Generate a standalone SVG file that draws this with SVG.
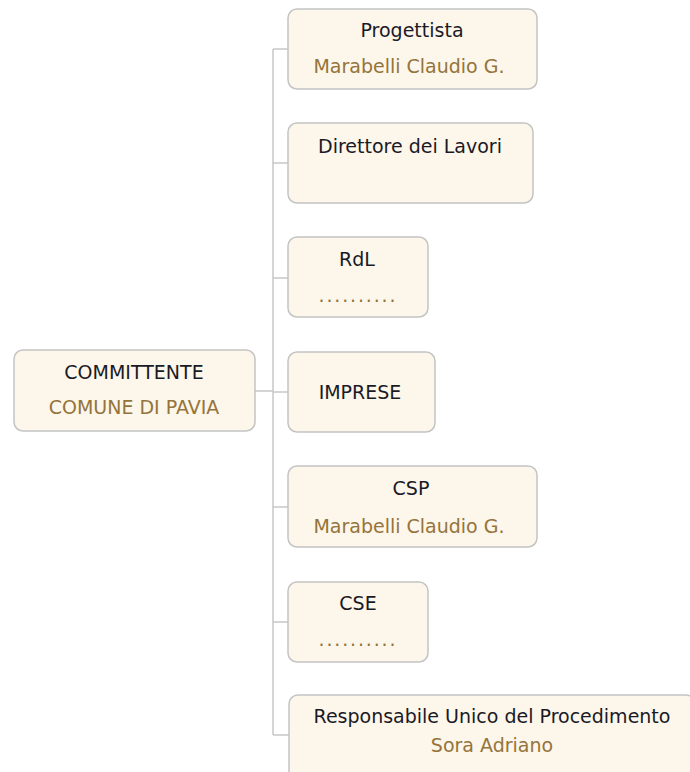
<svg xmlns="http://www.w3.org/2000/svg" width="690" height="772" viewBox="0 0 690 772">
<style>
.box{fill:#fdf6ea;stroke:#c4c4c4;stroke-width:1.5}
.t{font-family:"DejaVu Sans","Liberation Sans",sans-serif;font-size:19px;text-anchor:middle;fill:#1a1a26}
.n{font-family:"DejaVu Sans","Liberation Sans",sans-serif;font-size:19px;text-anchor:middle;fill:#94743a}
.c{fill:none;stroke:#c8c8c8;stroke-width:1.5}
</style>
<rect width="690" height="772" fill="#ffffff"/>
<g id="connectors">
<path class="c" d="M255 391H273M273 49V735M273 49H288M273 163H288M273 278H288M273 392H288M273 507H288M273 622H288M273 735H289"/>
</g>
<g id="committente">
<rect class="box" x="14" y="350" width="241" height="81" rx="9"/>
<text class="t" x="134" y="379">COMMITTENTE</text>
<text class="n" x="134" y="414">COMUNE DI PAVIA</text>
</g>
<g id="progettista">
<rect class="box" x="288" y="9" width="249" height="80" rx="9"/>
<text class="t" x="412" y="37">Progettista</text>
<text class="n" x="409" y="73">Marabelli Claudio G.</text>
</g>
<g id="direttore">
<rect class="box" x="288" y="123" width="245" height="80" rx="9"/>
<text class="t" x="410" y="153">Direttore dei Lavori</text>
</g>
<g id="rdl">
<rect class="box" x="288" y="237" width="140" height="80" rx="9"/>
<text class="t" x="357" y="266">RdL</text>
<text class="n" x="357" y="302" textLength="77" lengthAdjust="spacing">..........</text>
</g>
<g id="imprese">
<rect class="box" x="288" y="352" width="147" height="80" rx="9"/>
<text class="t" x="360" y="399">IMPRESE</text>
</g>
<g id="csp">
<rect class="box" x="288" y="466" width="249" height="81" rx="9"/>
<text class="t" x="411" y="495">CSP</text>
<text class="n" x="409" y="533">Marabelli Claudio G.</text>
</g>
<g id="cse">
<rect class="box" x="288" y="582" width="140" height="80" rx="9"/>
<text class="t" x="358" y="610">CSE</text>
<text class="n" x="357" y="646" textLength="77" lengthAdjust="spacing">..........</text>
</g>
<g id="rup">
<rect class="box" x="289" y="695" width="406" height="85" rx="9"/>
<text class="t" x="492" y="723">Responsabile Unico del Procedimento</text>
<text class="n" x="492" y="752">Sora Adriano</text>
</g>
</svg>
